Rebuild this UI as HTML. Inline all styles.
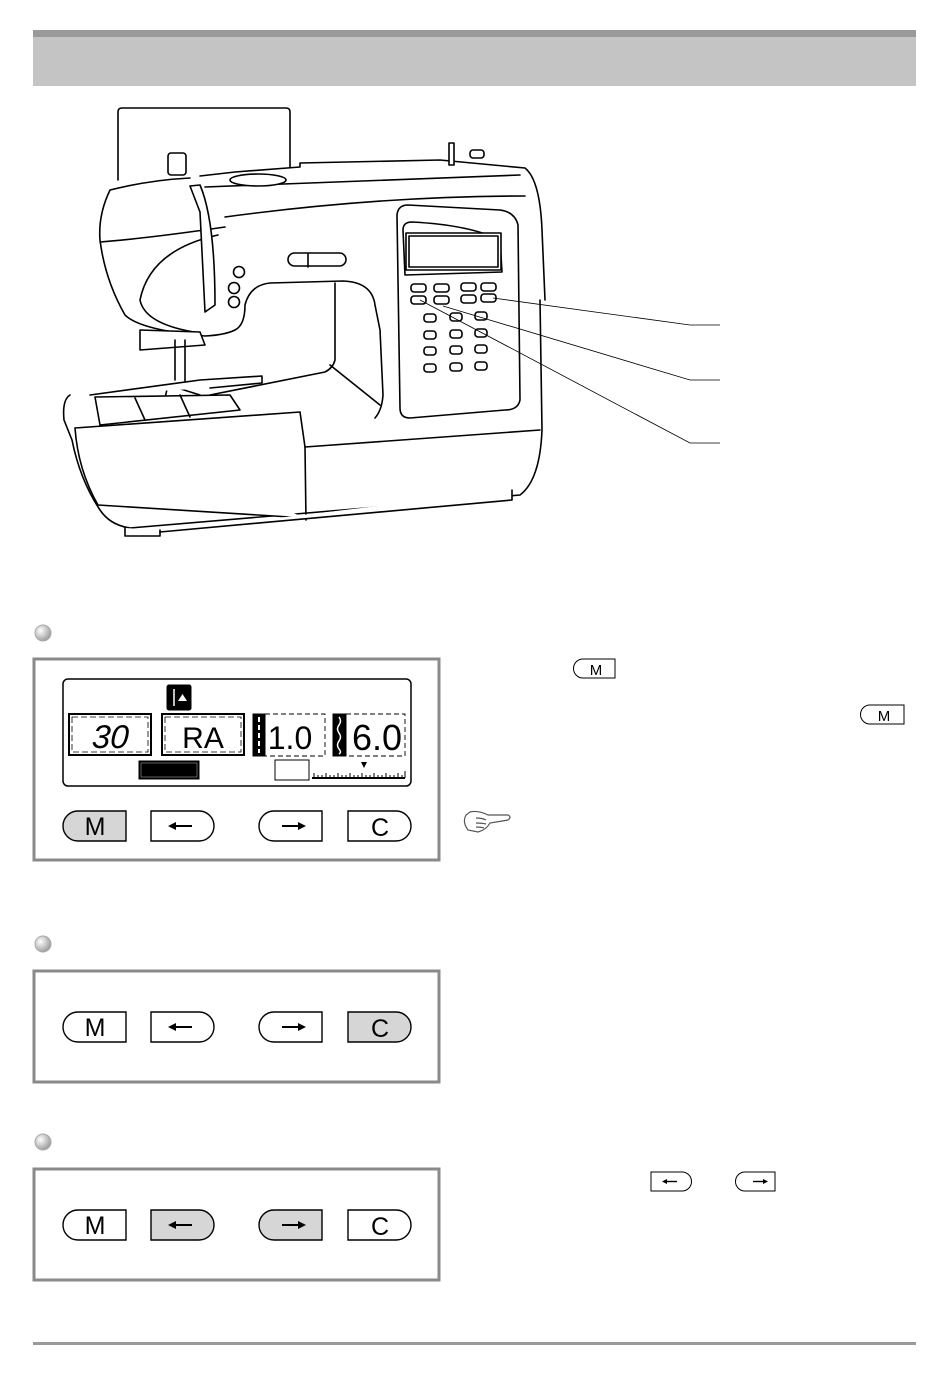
<!DOCTYPE html>
<html><head><meta charset="utf-8"><style>
html,body{margin:0;padding:0;background:#fff}
svg{display:block}
text{font-family:"Liberation Sans",sans-serif}
</style></head><body>
<svg width="950" height="1385" viewBox="0 0 950 1385" xmlns="http://www.w3.org/2000/svg">
<defs>
<radialGradient id="bl" cx="0.35" cy="0.35" r="0.7"><stop offset="0" stop-color="#fff"/><stop offset="1" stop-color="#999"/></radialGradient>
</defs>
<!-- header -->
<rect x="33" y="30" width="883" height="56" fill="#c4c4c4"/>
<rect x="33" y="30" width="883" height="7" fill="#9a9a9a"/>
<!-- footer line -->
<rect x="33" y="1342" width="883" height="3" fill="#999"/>

<!-- sewing machine -->
<g fill="#fff" stroke="#000" stroke-width="1.6" stroke-linejoin="round" stroke-linecap="round">
<path d="M118,180 L118,112 Q118,108 122,108 L286,108 Q290,108 290,112 L290,170"/>
<!-- base -->
<path d="M70,395 Q62,400 64,420 L72,440 Q80,480 100,510 Q110,525 130,528 L520,495 Q540,480 542,430 L540,300"/>
<path d="M75,428 L300,412 L305,447 L540,430"/>
<path d="M75,428 Q78,470 98,505 L306,518"/>
<path d="M305,447 L306,520"/>
<path d="M125,528 L125,536 L160,536 L160,530"/>
<path d="M160,532 L512,500 L512,490"/>
<!-- body -->
<path d="M200,176 L235,172 L300,167 L300,163 L440,160 L525,168 Q540,180 542,230 L545,300"/>
<path d="M205,187 L520,175"/>
<path d="M225,217 Q380,196 525,196"/>
<!-- head -->
<path d="M190,178 Q150,180 110,190 Q98,215 100,240 Q105,280 125,315 Q140,330 205,336 Q225,335 235,330"/>
<path d="M100,242 Q150,238 225,227"/>
<path d="M218,235 Q150,250 140,300 Q145,325 200,333"/>
<path d="M190,186 L200,185 Q215,220 215,305 L205,312 L200,212 Z"/>
<!-- arm opening -->
<path d="M235,330 Q245,325 245,305 Q250,285 270,283 L343,281 Q372,282 375,305 L380,330 L383,395 Q382,410 375,418"/>
<path d="M335,283 L335,360 Q333,368 325,372 L210,395"/>
<path d="M330,365 L380,405"/>
<!-- controls -->
<rect x="288" y="253" width="58" height="13" rx="6.5"/>
<line x1="308" y1="254" x2="308" y2="267"/>
<circle cx="239" cy="272" r="5.5"/><circle cx="234" cy="288" r="5.5"/><circle cx="234" cy="302" r="5.5"/>
<!-- spool pins -->
<rect x="168" y="153" width="18" height="22" rx="3"/>
<rect x="449" y="143" width="5" height="22"/>
<rect x="470" y="150" width="14" height="8" rx="3"/>
<ellipse cx="258" cy="180" rx="28" ry="6"/>
<!-- needle area -->
<path d="M140,330 L200,332 L205,345 L140,350 Z"/>
<path d="M175,340 L175,380 M185,340 L185,385 M168,385 L200,395 L195,405 L165,398 Z"/>
<!-- bed plates -->
<path d="M90,395 L200,380 L262,376 L262,383 L210,388"/>
<path d="M95,397 L100,425 L240,410 L230,395 Z"/>
<path d="M135,398 L145,420 M180,395 L190,417"/>
<!-- display panel -->
<path d="M397,215 Q398,205 408,205 L500,210 Q515,212 518,225 L520,400 Q518,410 505,410 L410,418 Q400,418 400,408 Z"/>
<path d="M403,230 Q403,222 412,222 Q470,225 500,240 L502,272 L405,275 Z"/>
<rect x="406" y="233" width="95" height="37"/>
<rect x="409" y="236" width="89" height="31"/>
<rect x="411" y="284" width="15" height="8" rx="3"/><rect x="434" y="284" width="15" height="8" rx="3"/>
<rect x="461" y="283" width="15" height="8" rx="3"/><rect x="481" y="283" width="15" height="8" rx="3"/>
<rect x="411" y="296" width="15" height="8" rx="3"/><rect x="434" y="296" width="15" height="8" rx="3"/>
<rect x="461" y="295" width="15" height="8" rx="3"/><rect x="481" y="294" width="15" height="8" rx="3"/>
<g>
<rect x="424" y="314" width="12" height="8" rx="3"/><rect x="450" y="313" width="12" height="8" rx="3"/><rect x="475" y="312" width="12" height="8" rx="3"/>
<rect x="424" y="331" width="12" height="8" rx="3"/><rect x="450" y="330" width="12" height="8" rx="3"/><rect x="475" y="329" width="12" height="8" rx="3"/>
<rect x="424" y="347" width="12" height="8" rx="3"/><rect x="450" y="346" width="12" height="8" rx="3"/><rect x="475" y="345" width="12" height="8" rx="3"/>
<rect x="424" y="364" width="12" height="8" rx="3"/><rect x="450" y="363" width="12" height="8" rx="3"/><rect x="475" y="362" width="12" height="8" rx="3"/>
</g>
</g>
<!-- leader lines -->
<g fill="none" stroke="#000" stroke-width="0.8">
<polyline points="493,298 690,325 720,325"/>
<polyline points="443,306 690,380 720,380"/>
<polyline points="420,300 690,443 720,443"/>
</g>

<!-- bullets -->
<circle cx="43" cy="633" r="8" fill="url(#bl)" stroke="#aaa"/>
<circle cx="43" cy="944" r="8" fill="url(#bl)" stroke="#aaa"/>
<circle cx="43" cy="1142" r="8" fill="url(#bl)" stroke="#aaa"/>

<!-- panels -->
<g fill="none" stroke="#8a8a8a" stroke-width="3">
<rect x="34" y="659" width="405" height="201"/>
<rect x="34" y="971" width="405" height="111"/>
<rect x="34" y="1169" width="405" height="111"/>
</g>

<!-- LCD -->
<g stroke="#000" fill="none">
<rect x="63" y="679" width="348" height="107" rx="5" stroke-width="1.5"/>
<rect x="167" y="685" width="24" height="25" rx="2" fill="#000"/>
<line x1="174" y1="689" x2="174" y2="706" stroke="#fff" stroke-width="1.5"/>
<path d="M178,701 L187,701 L182.5,694 Z" fill="#fff" stroke="none"/>
<rect x="69" y="714" width="82" height="41" stroke-width="2"/>
<rect x="72" y="717" width="76" height="35" stroke-width="0.8" stroke-dasharray="6,3"/>
<rect x="162" y="714" width="82" height="41" stroke-width="2"/>
<rect x="165" y="717" width="76" height="35" stroke-width="0.8" stroke-dasharray="6,3"/>
<rect x="253" y="714" width="12" height="42" fill="#000"/>
<line x1="259" y1="717" x2="259" y2="753" stroke="#fff" stroke-width="2" stroke-dasharray="5,3"/>
<rect x="265" y="714" width="60" height="42" stroke-width="0.9" stroke-dasharray="5,3"/>
<rect x="333" y="714" width="13" height="42" fill="#000"/>
<path d="M339,717 q3,4 0,8 q-3,4 0,8 q3,4 0,8 q-3,4 0,8 q3,3 0,5" stroke="#fff" stroke-width="1.5"/>
<rect x="346" y="714" width="59" height="42" stroke-width="0.9" stroke-dasharray="5,3"/>
<rect x="139" y="761" width="60" height="18" fill="#000"/>
<rect x="141" y="763" width="56" height="14" stroke="#777" stroke-width="0.8"/>
<rect x="275" y="760" width="34" height="20" stroke-width="1"/>
<line x1="312" y1="778" x2="405" y2="778" stroke-width="2"/>
</g>
<path d="M312,777 m0,0" />
<g stroke="#000" stroke-width="1">
<path d="M314,778V773M318,778V775M322,778V775M326,778V773M330,778V775M334,778V775M338,778V773M342,778V775M346,778V775M350,778V773M354,778V775M358,778V775M362,778V773M366,778V775M370,778V775M374,778V773M378,778V775M382,778V775M386,778V773M390,778V775M394,778V775M398,778V773M402,778V775M405,778V771"/>
</g>
<path d="M361,762 L367,762 L364,768 Z" fill="#000"/>
<g font-family="Liberation Sans,sans-serif" fill="#000">
<text x="110" y="748" font-size="33" font-style="italic" text-anchor="middle" transform="skewX(-4) translate(52,0)">30</text>
<text x="203" y="748" font-size="30" text-anchor="middle" font-weight="300">RA</text>
<text x="290" y="749" font-size="32" text-anchor="middle">1.0</text>
<text x="377" y="750" font-size="36" text-anchor="middle">6.0</text>
</g>

<!-- button shapes -->
<g font-size="24" text-anchor="middle" stroke="#000" stroke-width="1.4">
<!-- row 1 -->
<path d="M78,811 L126,811 L126,841 L78,841 A15,15 0 0 1 78,811 Z" fill="#d6d6d6"/>
<path d="M151,811 L199,811 A15,15 0 0 1 199,841 L151,841 Z" fill="#fff"/>
<path d="M274,811 L322,811 L322,841 L274,841 A15,15 0 0 1 274,811 Z" fill="#fff"/>
<path d="M348,811 L396,811 A15,15 0 0 1 396,841 L348,841 Z" fill="#fff"/>
<!-- row 2 -->
<path d="M78,1012 L126,1012 L126,1042 L78,1042 A15,15 0 0 1 78,1012 Z" fill="#fff"/>
<path d="M151,1012 L199,1012 A15,15 0 0 1 199,1042 L151,1042 Z" fill="#fff"/>
<path d="M274,1012 L322,1012 L322,1042 L274,1042 A15,15 0 0 1 274,1012 Z" fill="#fff"/>
<path d="M348,1012 L396,1012 A15,15 0 0 1 396,1042 L348,1042 Z" fill="#d6d6d6"/>
<!-- row 3 -->
<path d="M78,1210 L126,1210 L126,1240 L78,1240 A15,15 0 0 1 78,1210 Z" fill="#fff"/>
<path d="M151,1210 L199,1210 A15,15 0 0 1 199,1240 L151,1240 Z" fill="#d6d6d6"/>
<path d="M274,1210 L322,1210 L322,1240 L274,1240 A15,15 0 0 1 274,1210 Z" fill="#d6d6d6"/>
<path d="M348,1210 L396,1210 A15,15 0 0 1 396,1240 L348,1240 Z" fill="#fff"/>
<!-- small inline buttons -->
<path d="M583,659 L615,659 L615,678 L583,678 A9.5,9.5 0 0 1 583,659 Z" fill="#fff" stroke-width="1"/>
<path d="M870,705 L904,705 L904,724 L870,724 A9.5,9.5 0 0 1 870,705 Z" fill="#fff" stroke-width="1"/>
<path d="M651,1172 L682,1172 A9.5,9.5 0 0 1 682,1191 L651,1191 Z" fill="#fff" stroke-width="1"/>
<path d="M745,1172 L775,1172 L775,1191 L745,1191 A9.5,9.5 0 0 1 745,1172 Z" fill="#fff" stroke-width="1"/>
</g>
<g fill="#000" text-anchor="middle">
<text x="95" y="835" font-size="25">M</text>
<text x="380" y="836" font-size="25">C</text>
<text x="95" y="1036" font-size="25">M</text>
<text x="380" y="1037" font-size="25">C</text>
<text x="95" y="1234" font-size="25">M</text>
<text x="380" y="1235" font-size="25">C</text>
<text x="596" y="675" font-size="15">M</text>
<text x="884" y="721" font-size="15">M</text>
</g>
<!-- arrows -->
<g fill="#000" stroke="#000" stroke-width="2">
<path d="M172,826 H192" /><path d="M168,826 L176,822 L176,830 Z" stroke="none"/>
<path d="M282,826 H302" /><path d="M306,826 L298,822 L298,830 Z" stroke="none"/>
<path d="M172,1027 H192" /><path d="M168,1027 L176,1023 L176,1031 Z" stroke="none"/>
<path d="M282,1027 H302" /><path d="M306,1027 L298,1023 L298,1031 Z" stroke="none"/>
<path d="M172,1225 H192" /><path d="M168,1225 L176,1221 L176,1229 Z" stroke="none"/>
<path d="M282,1225 H302" /><path d="M306,1225 L298,1221 L298,1229 Z" stroke="none"/>
<path d="M665,1181.5 H677" stroke-width="1.4"/><path d="M662,1181.5 L667,1179 L667,1184 Z" stroke="none"/>
<path d="M753,1181.5 H765" stroke-width="1.4"/><path d="M768,1181.5 L763,1179 L763,1184 Z" stroke="none"/>
</g>
<!-- hand icon -->
<g fill="none" stroke="#555" stroke-width="1.2">
<path d="M466,815 Q462,822 468,830 L478,832 Q486,830 490,823 L508,820 Q512,817 508,815 L488,815 Q478,810 470,812 Z"/>
<path d="M476,818 Q482,818 486,820 M476,823 Q482,823 486,824 M476,827 Q481,827 484,828"/>
</g>
</svg>
</body></html>
